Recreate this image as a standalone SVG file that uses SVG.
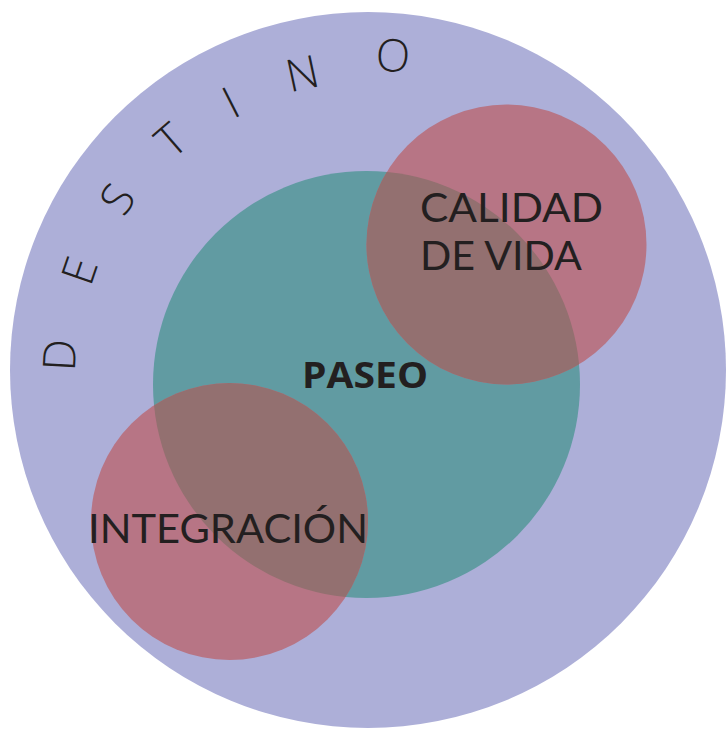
<svg xmlns="http://www.w3.org/2000/svg" width="727" height="729" viewBox="0 0 727 729">
  <style>
    .lbl { font-family: "Open Sans", "Liberation Sans", sans-serif; fill: #231f20; }
    .big { font-family: Lato, "Open Sans", "Liberation Sans", sans-serif; font-size: 40px; fill: #231f20; }
    .dest { font-family: "Open Sans", "Liberation Sans", sans-serif; font-weight: 300; font-size: 45px; fill: #231f20; text-anchor: middle; dominant-baseline: central; }
    .pink { fill: #b77585; }
    .ovl { fill: #937070; }
  </style>
  <defs>
    <clipPath id="tealClip"><circle cx="366.5" cy="384.5" r="213.5"/></clipPath>
  </defs>
  <rect width="727" height="729" fill="#ffffff"/>
  <g id="destino">
    <circle cx="368" cy="370" r="358" fill="#adafd8"/>
    <text class="dest" transform="translate(58,355) rotate(-87)">D</text>
    <text class="dest" transform="translate(78,270) rotate(-71)">E</text>
    <text class="dest" transform="translate(116,198) rotate(-56)">S</text>
    <text class="dest" transform="translate(170,139) rotate(-41)">T</text>
    <text class="dest" transform="translate(230,101) rotate(-27)">I</text>
    <text class="dest" transform="translate(302,72) rotate(-12)">N</text>
    <text class="dest" transform="translate(393,54) rotate(4)">O</text>
  </g>
  <g id="paseo">
    <circle cx="366.5" cy="384.5" r="213.5" fill="#619ba2"/>
  </g>
  <g id="calidad">
    <circle cx="506.5" cy="244.5" r="140" class="pink"/>
    <circle cx="506.5" cy="244.5" r="140" class="ovl" clip-path="url(#tealClip)"/>
  </g>
  <g id="integracion">
    <circle cx="229.5" cy="521.5" r="138.5" class="pink"/>
    <circle cx="229.5" cy="521.5" r="138.5" class="ovl" clip-path="url(#tealClip)"/>
  </g>
  <g id="labels">
    <text class="lbl" x="302" y="388" font-size="35" font-weight="bold" textLength="126" lengthAdjust="spacingAndGlyphs">PASEO</text>
    <text class="big" x="420" y="222" textLength="183" lengthAdjust="spacingAndGlyphs">CALIDAD</text>
    <text class="big" x="420" y="270" textLength="162" lengthAdjust="spacingAndGlyphs">DE VIDA</text>
    <text class="big" x="88" y="543" textLength="280" lengthAdjust="spacingAndGlyphs">INTEGRACIÓN</text>
  </g>
  <g id="connectors"/>
</svg>
